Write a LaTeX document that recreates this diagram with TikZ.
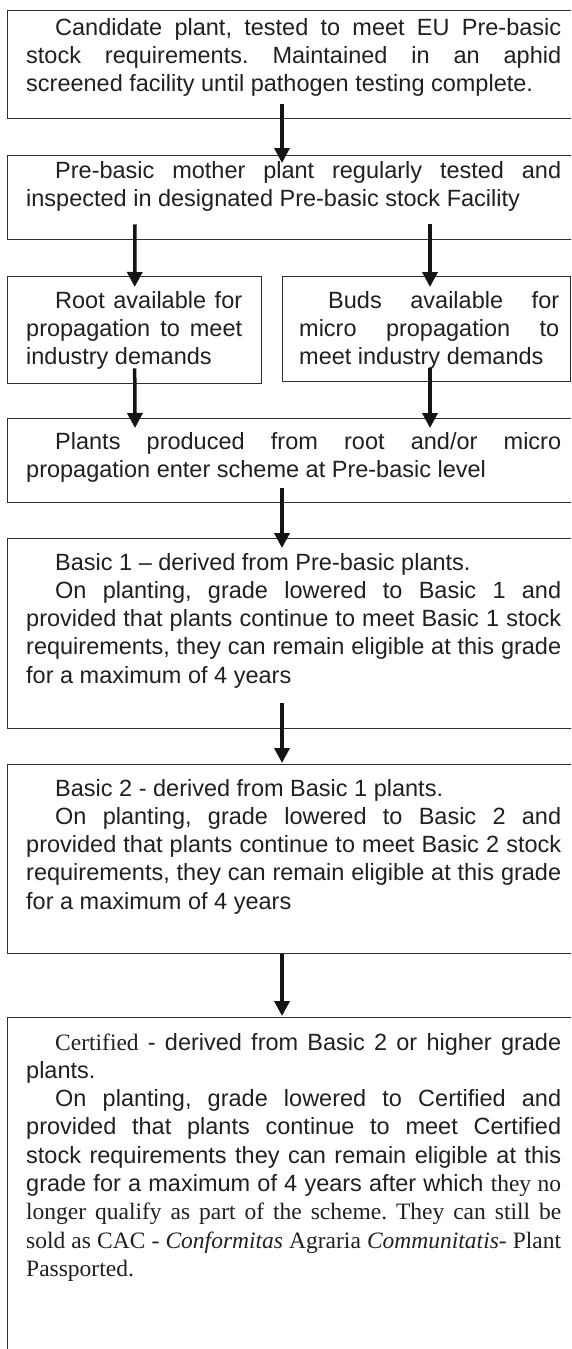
\documentclass[tikz,border=0pt]{standalone}
\usepackage{fontspec}
\setmainfont{Liberation Sans}
\newfontfamily\tnr{Liberation Serif}
\usetikzlibrary{arrows.meta}
\definecolor{ink}{HTML}{202020}
\definecolor{edge}{HTML}{303030}
\newcommand{\ind}{\hspace*{29pt}}
\newcommand{\txtsetup}{\fontsize{23.5}{28.3}\selectfont\tolerance=10000\relax\hyphenpenalty=10000\relax\frenchspacing}
\tikzset{
  box/.style={draw=edge, line width=1.4pt, anchor=north west, inner sep=0pt, fill=white},
  txt/.style={anchor=base west, inner sep=0pt, text width=#1, align=justify, text=ink,
    font=\txtsetup},
  arr/.style={draw=black!92, line width=3.5pt, -{Triangle[width=15pt,length=15pt]}}
}
\begin{document}
\begin{tikzpicture}
\useasboundingbox (0,0) rectangle (571pt,-1349pt);
\fill[white] (0,0) rectangle (571pt,-1349pt);
\clip (0,0) rectangle (571pt,-1349pt);
% boxes
\node[box, minimum width=573pt, minimum height=108pt] (b1) at (7pt,-10pt) {};
\node[box, minimum width=573pt, minimum height=84pt] (b2) at (7pt,-155pt) {};
\node[box, minimum width=254pt, minimum height=107pt] (b3l) at (7pt,-276pt) {};
\node[box, minimum width=288pt, minimum height=105pt] (b3r) at (282pt,-276pt) {};
\node[box, minimum width=573pt, minimum height=84pt] (b4) at (7pt,-418pt) {};
\node[box, minimum width=573pt, minimum height=190pt] (b5) at (7pt,-538pt) {};
\node[box, minimum width=573pt, minimum height=189pt] (b6) at (7pt,-764pt) {};
\node[box, minimum width=573pt, minimum height=360pt] (b7) at (7pt,-1017pt) {};
% texts
\node[txt=535pt] (t1) at (26pt,-35pt) {\ind Candidate plant, tested to meet EU Pre-basic\linebreak stock requirements. Maintained in an aphid\linebreak screened facility until pathogen testing complete.};
\node[txt=535pt] (t2) at (26pt,-178pt) {\ind Pre-basic mother plant regularly tested and\linebreak inspected in designated Pre-basic stock Facility};
\node[txt=216pt] (t3l) at (26pt,-308pt) {\ind Root available for\linebreak propagation to meet\linebreak industry demands};
\node[txt=260pt] (t3r) at (299pt,-308pt) {\ind Buds available for\linebreak micro propagation to\linebreak meet industry demands};
\node[txt=535pt] (t4) at (26pt,-449pt) {\ind Plants produced from root and/or micro\linebreak propagation enter scheme at Pre-basic level};
\node[txt=535pt] (t5) at (26pt,-570pt) {\ind Basic 1 – derived from Pre-basic plants.\par
\ind On planting, grade lowered to Basic 1 and\linebreak provided that plants continue to meet Basic 1 stock\linebreak requirements, they can remain eligible at this grade\linebreak for a maximum of 4 years};
\node[txt=535pt] (t6) at (26pt,-796pt) {\ind Basic 2 - derived from Basic 1 plants.\par
\ind On planting, grade lowered to Basic 2 and\linebreak provided that plants continue to meet Basic 2 stock\linebreak requirements, they can remain eligible at this grade\linebreak for a maximum of 4 years};
\node[txt=535pt] (t7) at (26pt,-1050pt) {\ind {\tnr Certified} - derived from Basic 2 or higher grade\linebreak plants.\par
\ind On planting, grade lowered to Certified and\linebreak provided that plants continue to meet Certified\linebreak stock requirements they can remain eligible at this\linebreak grade for a maximum of 4 years after which {\tnr they no\linebreak longer qualify as part of the scheme. They can still be\linebreak sold as CAC - \textit{Conformitas} Agraria \textit{Communitatis}- Plant\linebreak Passported.}};
% arrows
\draw[arr] ([xshift=275pt,yshift=15pt]b1.south west) -- ([xshift=275pt,yshift=-8pt]b2.north west);
\draw[arr] ([xshift=128pt,yshift=16pt]b2.south west) -- ([yshift=-11pt]b3l.north);
\draw[arr] ([xshift=423pt,yshift=16pt]b2.south west) -- ([xshift=148pt,yshift=-11pt]b3r.north west);
\draw[arr] ([yshift=16pt]b3l.south) -- ([xshift=128pt,yshift=-10pt]b4.north west);
\draw[arr] ([xshift=148pt,yshift=14pt]b3r.south west) -- ([xshift=423pt,yshift=-10pt]b4.north west);
\draw[arr] ([xshift=275pt,yshift=15pt]b4.south west) -- ([xshift=275pt,yshift=-10pt]b5.north west);
\draw[arr] ([xshift=275pt,yshift=26pt]b5.south west) -- ([xshift=275pt,yshift=1pt]b6.north west);
\draw[arr] ([xshift=275pt]b6.south west) -- ([xshift=275pt,yshift=1pt]b7.north west);
\end{tikzpicture}
\end{document}
